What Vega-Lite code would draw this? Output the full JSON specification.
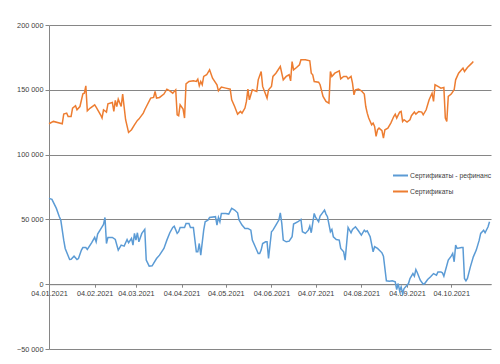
{
"$schema": "https://vega.github.io/schema/vega-lite/v6.json",
"width": 442, "height": 324,
"autosize": {"type": "none"},
"padding": {"left": 49, "top": 25, "right": 9, "bottom": 15},
"background": "#ffffff",
"config": {"view": {"stroke": null}, "font": "Liberation Sans"},
"data": {"values": [
{"date":"2021-01-04","series":"Сертификаты - рефинанс","value":66200},
{"date":"2021-01-06","series":"Сертификаты - рефинанс","value":65500},
{"date":"2021-01-09","series":"Сертификаты - рефинанс","value":58500},
{"date":"2021-01-11","series":"Сертификаты - рефинанс","value":52100},
{"date":"2021-01-12","series":"Сертификаты - рефинанс","value":49500},
{"date":"2021-01-14","series":"Сертификаты - рефинанс","value":34000},
{"date":"2021-01-15","series":"Сертификаты - рефинанс","value":27600},
{"date":"2021-01-18","series":"Сертификаты - рефинанс","value":19100},
{"date":"2021-01-19","series":"Сертификаты - рефинанс","value":19300},
{"date":"2021-01-21","series":"Сертификаты - рефинанс","value":21600},
{"date":"2021-01-23","series":"Сертификаты - рефинанс","value":19100},
{"date":"2021-01-24","series":"Сертификаты - рефинанс","value":19800},
{"date":"2021-01-26","series":"Сертификаты - рефинанс","value":26300},
{"date":"2021-01-27","series":"Сертификаты - рефинанс","value":28300},
{"date":"2021-01-29","series":"Сертификаты - рефинанс","value":28300},
{"date":"2021-01-30","series":"Сертификаты - рефинанс","value":26800},
{"date":"2021-02-02","series":"Сертификаты - рефинанс","value":32000},
{"date":"2021-02-04","series":"Сертификаты - рефинанс","value":36100},
{"date":"2021-02-05","series":"Сертификаты - рефинанс","value":32700},
{"date":"2021-02-06","series":"Сертификаты - рефинанс","value":38700},
{"date":"2021-02-09","series":"Сертификаты - рефинанс","value":44300},
{"date":"2021-02-10","series":"Сертификаты - рефинанс","value":46100},
{"date":"2021-02-11","series":"Сертификаты - рефинанс","value":51500},
{"date":"2021-02-12","series":"Сертификаты - рефинанс","value":31400},
{"date":"2021-02-13","series":"Сертификаты - рефинанс","value":36100},
{"date":"2021-02-16","series":"Сертификаты - рефинанс","value":36100},
{"date":"2021-02-18","series":"Сертификаты - рефинанс","value":34500},
{"date":"2021-02-20","series":"Сертификаты - рефинанс","value":26300},
{"date":"2021-02-22","series":"Сертификаты - рефинанс","value":30200},
{"date":"2021-02-24","series":"Сертификаты - рефинанс","value":29400},
{"date":"2021-02-26","series":"Сертификаты - рефинанс","value":34500},
{"date":"2021-02-27","series":"Сертификаты - рефинанс","value":32000},
{"date":"2021-03-01","series":"Сертификаты - рефинанс","value":35300},
{"date":"2021-03-02","series":"Сертификаты - рефинанс","value":30200},
{"date":"2021-03-03","series":"Сертификаты - рефинанс","value":39200},
{"date":"2021-03-04","series":"Сертификаты - рефинанс","value":34000},
{"date":"2021-03-05","series":"Сертификаты - рефинанс","value":39700},
{"date":"2021-03-06","series":"Сертификаты - рефинанс","value":32700},
{"date":"2021-03-08","series":"Сертификаты - рефинанс","value":39200},
{"date":"2021-03-10","series":"Сертификаты - рефинанс","value":42300},
{"date":"2021-03-11","series":"Сертификаты - рефинанс","value":18600},
{"date":"2021-03-13","series":"Сертификаты - рефинанс","value":13900},
{"date":"2021-03-15","series":"Сертификаты - рефинанс","value":14200},
{"date":"2021-03-16","series":"Сертификаты - рефинанс","value":16000},
{"date":"2021-03-18","series":"Сертификаты - рефинанс","value":19800},
{"date":"2021-03-20","series":"Сертификаты - рефинанс","value":22400},
{"date":"2021-03-23","series":"Сертификаты - рефинанс","value":27600},
{"date":"2021-03-25","series":"Сертификаты - рефинанс","value":34000},
{"date":"2021-03-27","series":"Сертификаты - рефинанс","value":39700},
{"date":"2021-03-29","series":"Сертификаты - рефинанс","value":43800},
{"date":"2021-03-30","series":"Сертификаты - рефинанс","value":44800},
{"date":"2021-04-01","series":"Сертификаты - рефинанс","value":39200},
{"date":"2021-04-02","series":"Сертификаты - рефинанс","value":40500},
{"date":"2021-04-03","series":"Сертификаты - рефинанс","value":43800},
{"date":"2021-04-06","series":"Сертификаты - рефинанс","value":43800},
{"date":"2021-04-07","series":"Сертификаты - рефинанс","value":46900},
{"date":"2021-04-09","series":"Сертификаты - рефинанс","value":46900},
{"date":"2021-04-10","series":"Сертификаты - рефинанс","value":43800},
{"date":"2021-04-12","series":"Сертификаты - рефинанс","value":43800},
{"date":"2021-04-14","series":"Сертификаты - рефинанс","value":25000},
{"date":"2021-04-15","series":"Сертификаты - рефинанс","value":25000},
{"date":"2021-04-16","series":"Сертификаты - рефинанс","value":31400},
{"date":"2021-04-17","series":"Сертификаты - рефинанс","value":22400},
{"date":"2021-04-19","series":"Сертификаты - рефинанс","value":41700},
{"date":"2021-04-20","series":"Сертификаты - рефинанс","value":48200},
{"date":"2021-04-22","series":"Сертификаты - рефинанс","value":49500},
{"date":"2021-04-23","series":"Сертификаты - рефинанс","value":51500},
{"date":"2021-04-27","series":"Сертификаты - рефинанс","value":52100},
{"date":"2021-04-28","series":"Сертификаты - рефинанс","value":45600},
{"date":"2021-04-29","series":"Сертификаты - рефинанс","value":51500},
{"date":"2021-04-30","series":"Сертификаты - рефинанс","value":48200},
{"date":"2021-05-01","series":"Сертификаты - рефинанс","value":54600},
{"date":"2021-05-04","series":"Сертификаты - рефинанс","value":54600},
{"date":"2021-05-06","series":"Сертификаты - рефинанс","value":54100},
{"date":"2021-05-08","series":"Сертификаты - рефинанс","value":58500},
{"date":"2021-05-10","series":"Сертификаты - рефинанс","value":57200},
{"date":"2021-05-12","series":"Сертификаты - рефинанс","value":55100},
{"date":"2021-05-13","series":"Сертификаты - рефинанс","value":49500},
{"date":"2021-05-15","series":"Сертификаты - рефинанс","value":45600},
{"date":"2021-05-17","series":"Сертификаты - рефинанс","value":43000},
{"date":"2021-05-19","series":"Сертификаты - рефинанс","value":43000},
{"date":"2021-05-21","series":"Сертификаты - рефинанс","value":41700},
{"date":"2021-05-22","series":"Сертификаты - рефинанс","value":34000},
{"date":"2021-05-24","series":"Сертификаты - рефинанс","value":28900},
{"date":"2021-05-26","series":"Сертификаты - рефинанс","value":23700},
{"date":"2021-05-27","series":"Сертификаты - рефинанс","value":23700},
{"date":"2021-05-28","series":"Сертификаты - рефинанс","value":26300},
{"date":"2021-05-29","series":"Сертификаты - рефинанс","value":31400},
{"date":"2021-05-31","series":"Сертификаты - рефинанс","value":32700},
{"date":"2021-06-01","series":"Сертификаты - рефинанс","value":32700},
{"date":"2021-06-02","series":"Сертификаты - рефинанс","value":19800},
{"date":"2021-06-04","series":"Сертификаты - рефинанс","value":40500},
{"date":"2021-06-05","series":"Сертификаты - рефинанс","value":41700},
{"date":"2021-06-07","series":"Сертификаты - рефинанс","value":45600},
{"date":"2021-06-09","series":"Сертификаты - рефинанс","value":49500},
{"date":"2021-06-10","series":"Сертификаты - рефинанс","value":55100},
{"date":"2021-06-11","series":"Сертификаты - рефинанс","value":46900},
{"date":"2021-06-12","series":"Сертификаты - рефинанс","value":34000},
{"date":"2021-06-14","series":"Сертификаты - рефинанс","value":32700},
{"date":"2021-06-16","series":"Сертификаты - рефинанс","value":33200},
{"date":"2021-06-18","series":"Сертификаты - рефинанс","value":36600},
{"date":"2021-06-19","series":"Сертификаты - рефинанс","value":46400},
{"date":"2021-06-22","series":"Сертификаты - рефинанс","value":48200},
{"date":"2021-06-24","series":"Сертификаты - рефинанс","value":50000},
{"date":"2021-06-25","series":"Сертификаты - рефинанс","value":40500},
{"date":"2021-06-27","series":"Сертификаты - рефинанс","value":39200},
{"date":"2021-06-29","series":"Сертификаты - рефинанс","value":41700},
{"date":"2021-06-30","series":"Сертификаты - рефинанс","value":44800},
{"date":"2021-07-01","series":"Сертификаты - рефинанс","value":39700},
{"date":"2021-07-03","series":"Сертификаты - рефинанс","value":54600},
{"date":"2021-07-04","series":"Сертификаты - рефинанс","value":51500},
{"date":"2021-07-06","series":"Сертификаты - рефинанс","value":48200},
{"date":"2021-07-07","series":"Сертификаты - рефинанс","value":52600},
{"date":"2021-07-08","series":"Сертификаты - рефинанс","value":54100},
{"date":"2021-07-10","series":"Сертификаты - рефинанс","value":57200},
{"date":"2021-07-11","series":"Сертификаты - рефинанс","value":54100},
{"date":"2021-07-12","series":"Сертификаты - рефинанс","value":52100},
{"date":"2021-07-14","series":"Сертификаты - рефинанс","value":40500},
{"date":"2021-07-15","series":"Сертификаты - рефинанс","value":42300},
{"date":"2021-07-16","series":"Сертификаты - рефинанс","value":36600},
{"date":"2021-07-18","series":"Сертификаты - рефинанс","value":34500},
{"date":"2021-07-20","series":"Сертификаты - рефинанс","value":34000},
{"date":"2021-07-21","series":"Сертификаты - рефинанс","value":27600},
{"date":"2021-07-23","series":"Сертификаты - рефинанс","value":25000},
{"date":"2021-07-24","series":"Сертификаты - рефинанс","value":18600},
{"date":"2021-07-26","series":"Сертификаты - рефинанс","value":43800},
{"date":"2021-07-28","series":"Сертификаты - рефинанс","value":39700},
{"date":"2021-07-29","series":"Сертификаты - рефинанс","value":42300},
{"date":"2021-07-31","series":"Сертификаты - рефинанс","value":44300},
{"date":"2021-08-02","series":"Сертификаты - рефинанс","value":41200},
{"date":"2021-08-04","series":"Сертификаты - рефинанс","value":37900},
{"date":"2021-08-06","series":"Сертификаты - рефинанс","value":41700},
{"date":"2021-08-07","series":"Сертификаты - рефинанс","value":40500},
{"date":"2021-08-08","series":"Сертификаты - рефинанс","value":41200},
{"date":"2021-08-10","series":"Сертификаты - рефинанс","value":36600},
{"date":"2021-08-12","series":"Сертификаты - рефинанс","value":25000},
{"date":"2021-08-13","series":"Сертификаты - рефинанс","value":28900},
{"date":"2021-08-15","series":"Сертификаты - рефинанс","value":27600},
{"date":"2021-08-18","series":"Сертификаты - рефинанс","value":24200},
{"date":"2021-08-19","series":"Сертификаты - рефинанс","value":21600},
{"date":"2021-08-21","series":"Сертификаты - рефинанс","value":2600},
{"date":"2021-08-23","series":"Сертификаты - рефинанс","value":2300},
{"date":"2021-08-25","series":"Сертификаты - рефинанс","value":2600},
{"date":"2021-08-27","series":"Сертификаты - рефинанс","value":1800},
{"date":"2021-08-28","series":"Сертификаты - рефинанс","value":-4100},
{"date":"2021-08-29","series":"Сертификаты - рефинанс","value":500},
{"date":"2021-08-30","series":"Сертификаты - рефинанс","value":-5200},
{"date":"2021-08-31","series":"Сертификаты - рефинанс","value":-2100},
{"date":"2021-09-01","series":"Сертификаты - рефинанс","value":-7200},
{"date":"2021-09-02","series":"Сертификаты - рефинанс","value":-3400},
{"date":"2021-09-05","series":"Сертификаты - рефинанс","value":500},
{"date":"2021-09-06","series":"Сертификаты - рефинанс","value":4400},
{"date":"2021-09-08","series":"Сертификаты - рефинанс","value":8200},
{"date":"2021-09-09","series":"Сертификаты - рефинанс","value":6200},
{"date":"2021-09-10","series":"Сертификаты - рефинанс","value":11300},
{"date":"2021-09-11","series":"Сертификаты - рефинанс","value":8800},
{"date":"2021-09-13","series":"Сертификаты - рефинанс","value":3100},
{"date":"2021-09-15","series":"Сертификаты - рефинанс","value":0},
{"date":"2021-09-16","series":"Сертификаты - рефинанс","value":500},
{"date":"2021-09-18","series":"Сертификаты - рефинанс","value":3600},
{"date":"2021-09-20","series":"Сертификаты - рефинанс","value":5700},
{"date":"2021-09-22","series":"Сертификаты - рефинанс","value":8200},
{"date":"2021-09-24","series":"Сертификаты - рефинанс","value":7000},
{"date":"2021-09-25","series":"Сертификаты - рефинанс","value":9500},
{"date":"2021-09-27","series":"Сертификаты - рефинанс","value":9500},
{"date":"2021-09-28","series":"Сертификаты - рефинанс","value":8800},
{"date":"2021-09-29","series":"Сертификаты - рефинанс","value":6200},
{"date":"2021-10-02","series":"Сертификаты - рефинанс","value":18600},
{"date":"2021-10-04","series":"Сертификаты - рефинанс","value":21600},
{"date":"2021-10-05","series":"Сертификаты - рефинанс","value":23700},
{"date":"2021-10-06","series":"Сертификаты - рефинанс","value":17300},
{"date":"2021-10-07","series":"Сертификаты - рефинанс","value":30200},
{"date":"2021-10-08","series":"Сертификаты - рефинанс","value":27600},
{"date":"2021-10-11","series":"Сертификаты - рефинанс","value":28300},
{"date":"2021-10-12","series":"Сертификаты - рефинанс","value":28300},
{"date":"2021-10-13","series":"Сертификаты - рефинанс","value":4400},
{"date":"2021-10-14","series":"Сертификаты - рефинанс","value":2600},
{"date":"2021-10-15","series":"Сертификаты - рефинанс","value":4400},
{"date":"2021-10-17","series":"Сертификаты - рефинанс","value":13400},
{"date":"2021-10-19","series":"Сертификаты - рефинанс","value":21100},
{"date":"2021-10-21","series":"Сертификаты - рефинанс","value":26300},
{"date":"2021-10-23","series":"Сертификаты - рефинанс","value":34000},
{"date":"2021-10-24","series":"Сертификаты - рефинанс","value":39200},
{"date":"2021-10-26","series":"Сертификаты - рефинанс","value":41700},
{"date":"2021-10-27","series":"Сертификаты - рефинанс","value":39700},
{"date":"2021-10-29","series":"Сертификаты - рефинанс","value":44300},
{"date":"2021-10-30","series":"Сертификаты - рефинанс","value":48200},
{"date":"2021-01-04","series":"Сертификаты","value":123800},
{"date":"2021-01-07","series":"Сертификаты","value":125600},
{"date":"2021-01-13","series":"Сертификаты","value":123800},
{"date":"2021-01-14","series":"Сертификаты","value":131200},
{"date":"2021-01-16","series":"Сертификаты","value":132000},
{"date":"2021-01-17","series":"Сертификаты","value":129400},
{"date":"2021-01-19","series":"Сертификаты","value":129400},
{"date":"2021-01-20","series":"Сертификаты","value":135900},
{"date":"2021-01-22","series":"Сертификаты","value":137700},
{"date":"2021-01-23","series":"Сертификаты","value":134600},
{"date":"2021-01-25","series":"Сертификаты","value":137100},
{"date":"2021-01-27","series":"Сертификаты","value":146900},
{"date":"2021-01-28","series":"Сертификаты","value":147400},
{"date":"2021-01-29","series":"Сертификаты","value":153100},
{"date":"2021-01-30","series":"Сертификаты","value":133800},
{"date":"2021-02-01","series":"Сертификаты","value":135900},
{"date":"2021-02-04","series":"Сертификаты","value":138400},
{"date":"2021-02-05","series":"Сертификаты","value":136600},
{"date":"2021-02-08","series":"Сертификаты","value":130700},
{"date":"2021-02-09","series":"Сертификаты","value":128200},
{"date":"2021-02-10","series":"Сертификаты","value":134600},
{"date":"2021-02-12","series":"Сертификаты","value":132800},
{"date":"2021-02-13","series":"Сертификаты","value":139200},
{"date":"2021-02-16","series":"Сертификаты","value":140200},
{"date":"2021-02-17","series":"Сертификаты","value":133300},
{"date":"2021-02-18","series":"Сертификаты","value":141800},
{"date":"2021-02-19","series":"Сертификаты","value":137100},
{"date":"2021-02-20","series":"Сертификаты","value":142800},
{"date":"2021-02-22","series":"Сертификаты","value":137100},
{"date":"2021-02-23","series":"Сертификаты","value":146700},
{"date":"2021-02-25","series":"Сертификаты","value":126900},
{"date":"2021-02-27","series":"Сертификаты","value":117100},
{"date":"2021-03-01","series":"Сертификаты","value":119200},
{"date":"2021-03-03","series":"Сертификаты","value":123000},
{"date":"2021-03-05","series":"Сертификаты","value":126400},
{"date":"2021-03-06","series":"Сертификаты","value":127400},
{"date":"2021-03-09","series":"Сертификаты","value":132000},
{"date":"2021-03-10","series":"Сертификаты","value":134600},
{"date":"2021-03-14","series":"Сертификаты","value":143600},
{"date":"2021-03-16","series":"Сертификаты","value":144100},
{"date":"2021-03-17","series":"Сертификаты","value":148700},
{"date":"2021-03-18","series":"Сертификаты","value":143600},
{"date":"2021-03-20","series":"Сертификаты","value":144100},
{"date":"2021-03-23","series":"Сертификаты","value":146700},
{"date":"2021-03-25","series":"Сертификаты","value":150500},
{"date":"2021-03-27","series":"Сертификаты","value":149200},
{"date":"2021-03-29","series":"Сертификаты","value":147400},
{"date":"2021-03-31","series":"Сертификаты","value":150000},
{"date":"2021-04-01","series":"Сертификаты","value":130700},
{"date":"2021-04-02","series":"Сертификаты","value":130000},
{"date":"2021-04-03","series":"Сертификаты","value":138400},
{"date":"2021-04-05","series":"Сертификаты","value":135100},
{"date":"2021-04-06","series":"Сертификаты","value":128200},
{"date":"2021-04-07","series":"Сертификаты","value":154600},
{"date":"2021-04-09","series":"Сертификаты","value":156400},
{"date":"2021-04-12","series":"Сертификаты","value":156900},
{"date":"2021-04-14","series":"Сертификаты","value":156400},
{"date":"2021-04-15","series":"Сертификаты","value":158200},
{"date":"2021-04-16","series":"Сертификаты","value":153100},
{"date":"2021-04-17","series":"Сертификаты","value":156400},
{"date":"2021-04-18","series":"Сертификаты","value":153900},
{"date":"2021-04-19","series":"Сертификаты","value":160300},
{"date":"2021-04-21","series":"Сертификаты","value":161600},
{"date":"2021-04-23","series":"Сертификаты","value":165400},
{"date":"2021-04-25","series":"Сертификаты","value":159000},
{"date":"2021-04-28","series":"Сертификаты","value":153900},
{"date":"2021-04-29","series":"Сертификаты","value":149200},
{"date":"2021-05-01","series":"Сертификаты","value":152100},
{"date":"2021-05-04","series":"Сертификаты","value":151300},
{"date":"2021-05-07","series":"Сертификаты","value":150500},
{"date":"2021-05-08","series":"Сертификаты","value":142300},
{"date":"2021-05-10","series":"Сертификаты","value":137100},
{"date":"2021-05-12","series":"Сертификаты","value":131200},
{"date":"2021-05-14","series":"Сертификаты","value":133300},
{"date":"2021-05-15","series":"Сертификаты","value":132000},
{"date":"2021-05-17","series":"Сертификаты","value":135900},
{"date":"2021-05-18","series":"Сертификаты","value":141000},
{"date":"2021-05-19","series":"Сертификаты","value":150500},
{"date":"2021-05-20","series":"Сертификаты","value":142300},
{"date":"2021-05-22","series":"Сертификаты","value":150000},
{"date":"2021-05-25","series":"Сертификаты","value":148700},
{"date":"2021-05-26","series":"Сертификаты","value":157700},
{"date":"2021-05-28","series":"Сертификаты","value":164100},
{"date":"2021-05-29","series":"Сертификаты","value":152600},
{"date":"2021-06-01","series":"Сертификаты","value":143600},
{"date":"2021-06-02","series":"Сертификаты","value":150000},
{"date":"2021-06-04","series":"Сертификаты","value":152600},
{"date":"2021-06-05","series":"Сертификаты","value":160300},
{"date":"2021-06-07","series":"Сертификаты","value":162800},
{"date":"2021-06-10","series":"Сертификаты","value":168000},
{"date":"2021-06-12","series":"Сертификаты","value":157700},
{"date":"2021-06-14","series":"Сертификаты","value":160300},
{"date":"2021-06-16","series":"Сертификаты","value":161600},
{"date":"2021-06-17","series":"Сертификаты","value":156900},
{"date":"2021-06-18","series":"Сертификаты","value":171800},
{"date":"2021-06-19","series":"Сертификаты","value":165400},
{"date":"2021-06-21","series":"Сертификаты","value":167200},
{"date":"2021-06-23","series":"Сертификаты","value":169300},
{"date":"2021-06-24","series":"Сертификаты","value":173100},
{"date":"2021-06-27","series":"Сертификаты","value":173100},
{"date":"2021-06-30","series":"Сертификаты","value":172400},
{"date":"2021-07-01","series":"Сертификаты","value":162800},
{"date":"2021-07-02","series":"Сертификаты","value":161600},
{"date":"2021-07-03","series":"Сертификаты","value":156400},
{"date":"2021-07-06","series":"Сертификаты","value":155900},
{"date":"2021-07-07","series":"Сертификаты","value":153900},
{"date":"2021-07-09","series":"Сертификаты","value":144900},
{"date":"2021-07-11","series":"Сертификаты","value":141000},
{"date":"2021-07-13","series":"Сертификаты","value":139700},
{"date":"2021-07-14","series":"Сертификаты","value":164100},
{"date":"2021-07-15","series":"Сертификаты","value":160300},
{"date":"2021-07-17","series":"Сертификаты","value":162800},
{"date":"2021-07-20","series":"Сертификаты","value":164600},
{"date":"2021-07-21","series":"Сертификаты","value":158500},
{"date":"2021-07-23","series":"Сертификаты","value":160300},
{"date":"2021-07-25","series":"Сертификаты","value":160300},
{"date":"2021-07-26","series":"Сертификаты","value":158500},
{"date":"2021-07-28","series":"Сертификаты","value":160300},
{"date":"2021-07-29","series":"Сертификаты","value":155100},
{"date":"2021-07-30","series":"Сертификаты","value":146100},
{"date":"2021-07-31","series":"Сертификаты","value":150000},
{"date":"2021-08-02","series":"Сертификаты","value":150500},
{"date":"2021-08-04","series":"Сертификаты","value":149200},
{"date":"2021-08-06","series":"Сертификаты","value":146700},
{"date":"2021-08-07","series":"Сертификаты","value":137100},
{"date":"2021-08-08","series":"Сертификаты","value":132000},
{"date":"2021-08-09","series":"Сертификаты","value":128200},
{"date":"2021-08-11","series":"Сертификаты","value":123000},
{"date":"2021-08-12","series":"Сертификаты","value":124300},
{"date":"2021-08-13","series":"Сертификаты","value":121700},
{"date":"2021-08-14","series":"Сертификаты","value":114000},
{"date":"2021-08-15","series":"Сертификаты","value":119200},
{"date":"2021-08-16","series":"Сертификаты","value":120400},
{"date":"2021-08-18","series":"Сертификаты","value":118400},
{"date":"2021-08-19","series":"Сертификаты","value":112700},
{"date":"2021-08-20","series":"Сертификаты","value":119200},
{"date":"2021-08-22","series":"Сертификаты","value":120400},
{"date":"2021-08-24","series":"Сертификаты","value":124300},
{"date":"2021-08-26","series":"Сертификаты","value":129400},
{"date":"2021-08-27","series":"Сертификаты","value":131200},
{"date":"2021-08-28","series":"Сертификаты","value":128200},
{"date":"2021-08-30","series":"Сертификаты","value":132800},
{"date":"2021-08-31","series":"Сертификаты","value":133300},
{"date":"2021-09-01","series":"Сертификаты","value":125600},
{"date":"2021-09-02","series":"Сертификаты","value":126900},
{"date":"2021-09-04","series":"Сертификаты","value":125100},
{"date":"2021-09-06","series":"Сертификаты","value":126900},
{"date":"2021-09-07","series":"Сертификаты","value":130000},
{"date":"2021-09-09","series":"Сертификаты","value":132800},
{"date":"2021-09-10","series":"Сертификаты","value":131200},
{"date":"2021-09-12","series":"Сертификаты","value":133300},
{"date":"2021-09-14","series":"Сертификаты","value":132800},
{"date":"2021-09-15","series":"Сертификаты","value":130700},
{"date":"2021-09-17","series":"Сертификаты","value":134600},
{"date":"2021-09-19","series":"Сертификаты","value":142300},
{"date":"2021-09-21","series":"Сертификаты","value":147400},
{"date":"2021-09-22","series":"Сертификаты","value":141000},
{"date":"2021-09-23","series":"Сертификаты","value":153900},
{"date":"2021-09-25","series":"Сертификаты","value":152600},
{"date":"2021-09-27","series":"Сертификаты","value":151300},
{"date":"2021-09-29","series":"Сертификаты","value":151800},
{"date":"2021-09-30","series":"Сертификаты","value":128200},
{"date":"2021-10-01","series":"Сертификаты","value":125600},
{"date":"2021-10-02","series":"Сертификаты","value":144900},
{"date":"2021-10-04","series":"Сертификаты","value":146700},
{"date":"2021-10-06","series":"Сертификаты","value":150000},
{"date":"2021-10-07","series":"Сертификаты","value":157700},
{"date":"2021-10-09","series":"Сертификаты","value":162800},
{"date":"2021-10-11","series":"Сертификаты","value":165400},
{"date":"2021-10-12","series":"Сертификаты","value":166700},
{"date":"2021-10-13","series":"Сертификаты","value":164100},
{"date":"2021-10-15","series":"Сертификаты","value":167200},
{"date":"2021-10-18","series":"Сертификаты","value":170600},
{"date":"2021-10-19","series":"Сертификаты","value":171800}
]},
"mark": {"type": "line", "strokeWidth": 1.5, "interpolate": "linear"},
"encoding": {
"x": {"field": "date", "type": "temporal", "title": null,
"scale": {"type": "utc", "domain": [{"year": 2021, "month": 1, "date": 4, "utc": true}, {"year": 2021, "month": 10, "date": 31, "utc": true}]},
"axis": {"offset": -64.8, "labelExpr": "utcFormat(datum.value, '%d.%m.%Y')",
"values": [{"year":2021,"month":1,"date":4,"utc":true},{"year":2021,"month":2,"date":4,"utc":true},{"year":2021,"month":3,"date":4,"utc":true},{"year":2021,"month":4,"date":4,"utc":true},{"year":2021,"month":5,"date":4,"utc":true},{"year":2021,"month":6,"date":4,"utc":true},{"year":2021,"month":7,"date":4,"utc":true},{"year":2021,"month":8,"date":4,"utc":true},{"year":2021,"month":9,"date":4,"utc":true},{"year":2021,"month":10,"date":4,"utc":true}],
"grid": false, "domainColor": "#868686", "tickColor": "#868686", "tickSize": 3, "labelPadding": 2,
"labelFontSize": 7.3, "labelColor": "#404040", "labelFont": "Liberation Sans", "labelOverlap": false, "labelFlush": false}},
"y": {"field": "value", "type": "quantitative", "title": null,
"scale": {"domain": [-50000, 200000], "nice": false, "zero": false},
"axis": {"values": [-50000, 0, 50000, 100000, 150000, 200000],
"labelExpr": "replace(format(datum.value, ','), ',', ' ')",
"grid": true, "gridColor": "#868686", "gridWidth": 1, "domainColor": "#868686", "tickColor": "#868686", "tickSize": 4, "labelPadding": 2,
"labelFontSize": 7.3, "labelColor": "#404040", "labelFont": "Liberation Sans"}},
"color": {"field": "series", "type": "nominal",
"scale": {"domain": ["Сертификаты - рефинанс", "Сертификаты"], "range": ["#5B9BD5", "#ED7D31"]},
"legend": {"title": null, "orient": "none", "legendX": 343, "legendY": 142, "symbolType": "stroke", "symbolSize": 225, "symbolStrokeWidth": 2, "labelFontSize": 6.8, "labelColor": "#404040", "labelFont": "Liberation Sans", "labelOffset": 1, "rowPadding": 3, "padding": 0}}
}
}
